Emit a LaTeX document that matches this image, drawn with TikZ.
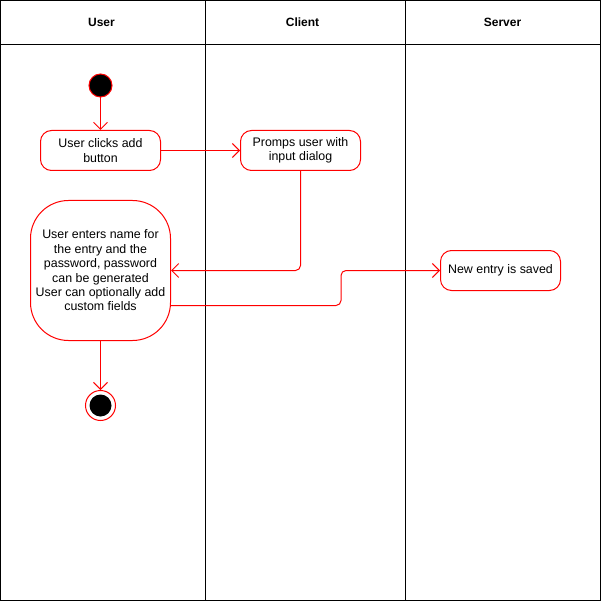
\documentclass[tikz,border=0pt]{standalone}
\usepackage{fontspec}
\setmainfont{Liberation Sans}
\usetikzlibrary{arrows.meta}
\begin{document}
\begin{tikzpicture}[x=1pt,y=-1pt,line width=1pt,
  act/.style={draw=red,fill=white,rounded corners=11pt,align=center,inner sep=2pt,minimum width=120pt,minimum height=40pt,font=\fontsize{12.4}{14.4}\selectfont},
  flow/.style={red,-{Straight Barb[length=7pt,width=14pt]}},
  lane/.style={font=\bfseries\fontsize{12}{14}\selectfont}]
  \useasboundingbox (-0.5,-0.5) rectangle (600.5,600.5);
  % swimlanes
  \draw (0,0) rectangle (600,600);
  \draw (0,44) -- (600,44);
  \draw (205,0) -- (205,600);
  \draw (405,0) -- (405,600);
  \node[lane] (user) at (101,22) {User};
  \node[lane] (client) at (302,22) {Client};
  \node[lane] (server) at (502,22) {Server};
  % activities
  \node[draw=red,fill=black,circle,minimum size=23pt,inner sep=0pt] (start) at (100,85) {};
  \node[act] (clicks) at (100,150) {User clicks add\\button};
  \node[act] (promps) at (300,150) {Promps user with\\input dialog};
  \node[act,minimum width=140pt,minimum height=140pt,rounded corners=38pt] (enters) at (100,270) {User enters name for\\the entry and the\\password, password\\can be generated\\User can optionally add\\custom fields};
  \node[act] (saved) at (500,270) {New entry is saved};
  \node[draw=red,circle,minimum size=30pt,inner sep=0pt] (stop) at (100,405) {};
  \node[fill=black,circle,minimum size=22pt,inner sep=0pt] (stopin) at (stop) {};
  % flows
  \draw[flow] (start) -- (clicks);
  \draw[flow] (clicks) -- (promps);
  \draw[flow,rounded corners=5pt] (promps.south) |- (enters.east);
  \draw[flow,rounded corners=5pt] ([yshift=-35pt]enters.east) -- ++(170,0) |- (saved.west);
  \draw[flow] (enters) -- (stop);
\end{tikzpicture}
\end{document}
